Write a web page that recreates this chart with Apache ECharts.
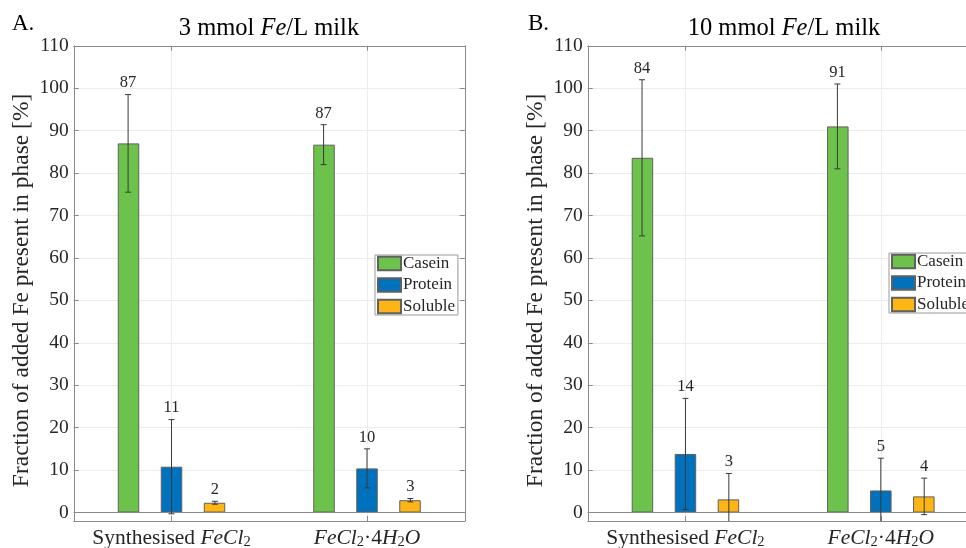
<!DOCTYPE html>
<html>
<head>
<meta charset="utf-8">
<script src="https://cdn.jsdelivr.net/npm/echarts@6/dist/echarts.min.js"></script>
<style>
  html, body { margin: 0; padding: 0; background: #ffffff; }
  #chart { width: 966px; height: 548px; }
</style>
</head>
<body>
<div id="chart"></div>
<script>
// Iron distribution between milk phases for two iron sources
const categories = ['Synthesised FeCl2', 'FeCl2·4H2O'];
const categoryLabels = ['{n|Synthesised }{i|FeCl}{s|2}', '{i|FeCl}{s|2}{n|·4}{i|H}{s|2}{i|O}'];
const seriesNames = ['Casein', 'Protein', 'Soluble'];

// 3 mmol Fe/L milk
const casein3 = [87.0, 86.7];
const casein3Err = [11.5, 4.7];
const protein3 = [10.8, 10.4];
const protein3Err = [11.1, 4.6];
const soluble3 = [2.3, 2.9];
const soluble3Err = [0.35, 0.4];

// 10 mmol Fe/L milk
const casein10 = [83.6, 91.0];
const casein10Err = [18.4, 10.0];
const protein10 = [13.8, 5.2];
const protein10Err = [13.1, 7.6];
const soluble10 = [3.1, 3.8];
const soluble10Err = [6.1, 4.3];

const yTicks = [0, 10, 20, 30, 40, 50, 60, 70, 80, 90, 100, 110];
const yMin = -2;
const yMax = 110;

const colors = ['#6cc24a', '#0072bd', '#fdb515'];
const FONT = '"Liberation Serif", "DejaVu Serif", serif';
const BAR_W = 21.5;
const BAR_STEP = 43.4;
const FRAME = '#8a8a8a';
const GRID = '#ececec';
const TXT = '#262626';

const chart = echarts.init(document.getElementById('chart'), null, { renderer: 'canvas' });

// Error bar with caps and a rounded value label above it
function renderErr(params, api) {
  const cat = api.value(0);
  const v = api.value(1);
  const e = api.value(2);
  const k = api.value(3);
  const cs = params.coordSys;
  const x = api.coord([cat, v])[0] + (k - 1) * BAR_STEP;
  let yTop = api.coord([cat, v + e])[1];
  let yBot = api.coord([cat, v - e])[1];
  const lo = cs.y + cs.height;
  const botClipped = yBot > lo;
  if (botClipped) yBot = lo;
  const ls = { stroke: '#3a3a3a', lineWidth: 1 };
  const children = [
    { type: 'line', shape: { x1: x, y1: yTop, x2: x, y2: yBot }, style: ls },
    { type: 'line', shape: { x1: x - 3, y1: yTop, x2: x + 3, y2: yTop }, style: ls }
  ];
  if (!botClipped) {
    children.push({ type: 'line', shape: { x1: x - 3, y1: yBot, x2: x + 3, y2: yBot }, style: ls });
  }
  children.push({
    type: 'text',
    x: x, y: yTop - 3,
    style: {
      text: String(Math.round(v)),
      align: 'center', verticalAlign: 'bottom',
      fontSize: 16.5, fontFamily: FONT, fill: TXT
    }
  });
  return { type: 'group', children: children };
}

function errData(means, errs) {
  const out = [];
  means.forEach(function (m, k) {
    m.forEach(function (v, i) { out.push([i, v, errs[k][i], k]); });
  });
  return out;
}

const richLabel = {
  n: { fontFamily: FONT, fontSize: 21.5, color: TXT, lineHeight: 24 },
  i: { fontFamily: FONT, fontSize: 21.5, fontStyle: 'italic', color: TXT, lineHeight: 24 },
  s: { fontFamily: FONT, fontSize: 14.5, color: TXT, lineHeight: 10, verticalAlign: 'bottom' }
};

function xAxes(gi) {
  return [
    {
      type: 'category', gridIndex: gi, position: 'bottom', data: categories,
      axisLine: { show: true, onZero: false, lineStyle: { color: FRAME } },
      axisTick: { show: true, inside: true, alignWithLabel: true, length: 5, lineStyle: { color: FRAME } },
      axisLabel: {
        margin: 5, interval: 0, hideOverlap: false,
        formatter: function (v, idx) { return categoryLabels[idx]; }, rich: richLabel
      },
      splitLine: { show: true, alignWithLabel: true, lineStyle: { color: GRID } }
    },
    {
      type: 'category', gridIndex: gi, position: 'top', data: categories,
      axisLine: { show: true, onZero: false, lineStyle: { color: FRAME } },
      axisTick: { show: true, inside: true, alignWithLabel: true, length: 5, lineStyle: { color: FRAME } },
      axisLabel: { show: false },
      splitLine: { show: false }
    }
  ];
}

function yAxes(gi) {
  return [
    {
      type: 'value', gridIndex: gi, position: 'left', min: yMin, max: yMax,
      name: 'Fraction of added Fe present in phase [%]',
      nameLocation: 'middle', nameGap: 40,
      nameTextStyle: { fontFamily: FONT, fontSize: 23.5, color: TXT, padding: [0, 14, 0, 0] },
      axisLine: { show: true, onZero: false, lineStyle: { color: FRAME } },
      axisTick: { show: true, inside: true, length: 5, customValues: yTicks, lineStyle: { color: FRAME } },
      axisLabel: { customValues: yTicks, margin: 5, fontFamily: FONT, fontSize: 19.5, color: TXT },
      splitLine: { show: true, lineStyle: { color: GRID } }
    },
    {
      type: 'value', gridIndex: gi, position: 'right', min: yMin, max: yMax,
      axisLine: { show: true, onZero: false, lineStyle: { color: FRAME } },
      axisTick: { show: true, inside: true, length: 5, customValues: yTicks, lineStyle: { color: FRAME } },
      axisLabel: { show: false },
      splitLine: { show: false }
    }
  ];
}

function barSeries(xi, yi, means) {
  return means.map(function (m, k) {
    const s = {
      name: seriesNames[k], type: 'bar', xAxisIndex: xi, yAxisIndex: yi,
      data: m, barWidth: BAR_W, barGap: '100%',
      itemStyle: { color: colors[k], borderColor: '#606060', borderWidth: 1 }
    };
    if (k === 0) {
      s.markLine = {
        silent: true, symbol: ['none', 'none'], label: { show: false },
        lineStyle: { color: FRAME, type: 'solid', width: 1 },
        emphasis: { disabled: true },
        data: [{ yAxis: 0 }]
      };
    }
    return s;
  });
}

function legendFor(left, top) {
  return {
    orient: 'vertical', left: left, top: top, data: seriesNames, icon: 'rect',
    backgroundColor: '#ffffff', borderColor: '#9a9a9a', borderWidth: 1,
    padding: [0, 3, 0, 2], itemWidth: 23, itemHeight: 13.5, itemGap: 4.5,
    textStyle: { fontFamily: FONT, fontSize: 17, lineHeight: 15.5, color: TXT, padding: [0, 0, 0, -3] }
  };
}

const titleRich = {
  n: { fontFamily: FONT, fontSize: 24.5, fontWeight: 'normal', color: '#000' },
  i: { fontFamily: FONT, fontSize: 24.5, fontWeight: 'normal', fontStyle: 'italic', color: '#000' }
};

const means3 = [casein3, protein3, soluble3];
const errs3 = [casein3Err, protein3Err, soluble3Err];
const means10 = [casein10, protein10, soluble10];
const errs10 = [casein10Err, protein10Err, soluble10Err];

const option = {
  animation: false,
  backgroundColor: '#ffffff',
  title: [
    { text: 'A.', left: 7, top: 7, textStyle: { fontFamily: FONT, fontSize: 23, fontWeight: 'normal', color: '#000' } },
    { text: 'B.', left: 523, top: 7, textStyle: { fontFamily: FONT, fontSize: 23, fontWeight: 'normal', color: '#000' } },
    {
      text: '{n|3 mmol }{i|Fe}{n|/L milk}', left: 264, top: 11, textAlign: 'center',
      textStyle: { fontWeight: 'normal', rich: titleRich }
    },
    {
      text: '{n|10 mmol }{i|Fe}{n|/L milk}', left: 779, top: 11, textAlign: 'center',
      textStyle: { fontWeight: 'normal', rich: titleRich }
    }
  ],
  legend: [legendFor(375, 255), legendFor(889, 253)],
  grid: [
    { left: 73.75, right: 501.25, top: 45.8, bottom: 27, outerBoundsMode: 'none', containLabel: false },
    { left: 587.75, right: -12.5, top: 45.8, bottom: 27, outerBoundsMode: 'none', containLabel: false }
  ],
  xAxis: xAxes(0).concat(xAxes(1)),
  yAxis: yAxes(0).concat(yAxes(1)),
  series: [].concat(
    barSeries(0, 0, means3),
    [{ type: 'custom', xAxisIndex: 0, yAxisIndex: 0, renderItem: renderErr, data: errData(means3, errs3), z: 5, silent: true }],
    barSeries(2, 2, means10),
    [{ type: 'custom', xAxisIndex: 2, yAxisIndex: 2, renderItem: renderErr, data: errData(means10, errs10), z: 5, silent: true }]
  )
};

chart.setOption(option);
</script>
</body>
</html>
